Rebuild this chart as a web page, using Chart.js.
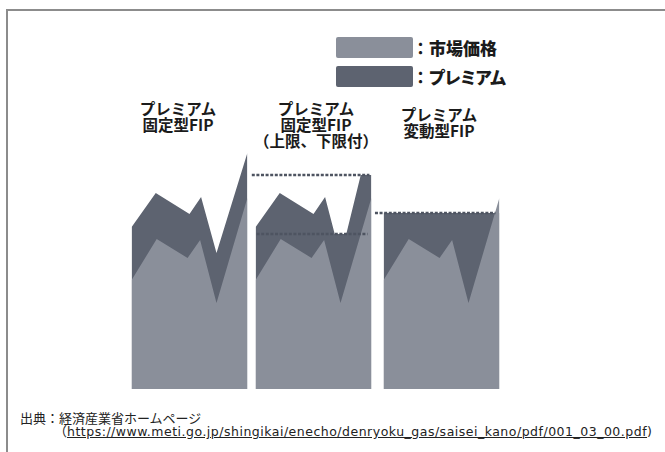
<!DOCTYPE html>
<html lang="ja">
<head>
<meta charset="utf-8">
<script src="https://cdn.jsdelivr.net/npm/chart.js@4/dist/chart.umd.min.js"></script>
<style>
  html, body { margin: 0; padding: 0; background: #fff; }
  body { width: 665px; height: 452px; position: relative; overflow: hidden;
         font-family: "Noto Sans CJK JP", "Noto Sans", sans-serif; color: #1b1b1b; }
  .frame { position: absolute; left: 6px; top: 9px; width: 700px; height: 500px;
           border-top: 2px solid #8c8c8c; border-left: 2px solid #8c8c8c; }
  .panel { position: absolute; top: 139px; width: 135px; height: 250px; }
  .title { position: absolute; width: 160px; text-align: center; font-weight: 700;
           font-size: 15.5px; line-height: 16px; }
  .swatch { position: absolute; left: 336px; width: 77px; height: 21px; border-radius: 2px; }
  .legtext { position: absolute; left: 412px; font-weight: 700; font-size: 17px;
             line-height: 21px; white-space: nowrap; }
  .legtext b { font-feature-settings: "palt"; }
  .src { position: absolute; font-size: 13px; line-height: 15px; color: #222; white-space: nowrap; }
  .url { font-family: "DejaVu Sans", sans-serif; font-size: 12.5px; letter-spacing: 0.5px;
         text-decoration: underline; }
</style>
</head>
<body>
<div class="frame"></div>

<div class="swatch" style="top:37px;background:#8a8f9a"></div>
<div class="legtext" style="top:37px">：<b>市場価格</b></div>
<div class="swatch" style="top:66px;background:#5d6370"></div>
<div class="legtext" style="top:66px">：<b>プレミアム</b></div>

<div class="title" style="left:98px;top:100px">プレミアム<br>固定型FIP</div>
<div class="title" style="left:236px;top:100px">プレミアム<br>固定型FIP<br>（上限、下限付）</div>
<div class="title" style="left:359px;top:106px">プレミアム<br>変動型FIP</div>

<div class="panel" style="left:122px"><canvas id="c1" width="135" height="250"></canvas></div>
<div class="panel" style="left:246px"><canvas id="c2" width="135" height="250"></canvas></div>
<div class="panel" style="left:374px"><canvas id="c3" width="135" height="250"></canvas></div>

<div class="src" style="left:20px;top:410px">出典：経済産業省ホームページ</div>
<div class="src" style="left:54px;top:423px">（<span class="url">https://www.meti.go.jp/shingikai/enecho/denryoku_gas/saisei_kano/pdf/001_03_00.pdf</span><span class="url" style="text-decoration:none">)</span></div>

<script>
// market price, same curve under each scheme
const marketX = [0, 2.6, 5.8, 7.1, 8.8, 12];
const marketPrice = [10.9, 15.0, 13.1, 14.9, 8.6, 19.1];

// fixed premium: market price + premium
const fixedX = [0, 2.5, 6.0, 7.2, 8.8, 12];
const fixedTop = [16.2, 19.6, 17.5, 19.2, 13.6, 23.6];

// fixed premium with cap and floor
const cappedX = [0, 2.5, 6.0, 7.2, 8.2, 9.4, 10.9, 12];
const cappedTop = [16.2, 19.6, 17.5, 19.2, 15.5, 15.5, 21.4, 21.4];
const upperLimit = 21.4;
const upperX = [-0.4, 11.8];
const lowerLimit = 15.5;
const lowerX = [0.1, 11.6];

// floating premium: reference price
const referencePrice = 17.6;
const refAreaX = [0, 12];
const refLineX = [-0.9, 11.6];

const lightGray = '#8a8f9a';
const darkGray = '#5d6370';
const dashColor = '#4e5461';

function pts(xs, ys) {
  return xs.map((x, i) => ({ x: x, y: Array.isArray(ys) ? ys[i] : ys }));
}

function area(data, color, order) {
  return {
    data: data,
    fill: 'origin',
    backgroundColor: color,
    borderColor: 'rgba(0,0,0,0)',
    borderWidth: 0,
    pointRadius: 0,
    order: order
  };
}

function dashed(data) {
  return {
    data: data,
    fill: false,
    borderColor: dashColor,
    borderWidth: 2.5,
    borderDash: [3, 1.6],
    pointRadius: 0,
    order: -1
  };
}

function drawPanel(id, datasets) {
  const ctx = document.getElementById(id).getContext('2d');
  return new Chart(ctx, {
    type: 'line',
    data: { datasets: datasets },
    options: {
      responsive: false,
      animation: false,
      layout: { padding: 0 },
      elements: { line: { tension: 0 } },
      plugins: { legend: { display: false }, tooltip: { enabled: false } },
      scales: {
        x: { type: 'linear', min: -1, max: 13, display: false },
        y: { min: 0, max: 25, display: false }
      }
    }
  });
}

drawPanel('c1', [
  area(pts(marketX, marketPrice), lightGray, 0),
  area(pts(fixedX, fixedTop), darkGray, 1)
]);

drawPanel('c2', [
  area(pts(marketX, marketPrice), lightGray, 0),
  area(pts(cappedX, cappedTop), darkGray, 1),
  dashed(pts(upperX, upperLimit)),
  dashed(pts(lowerX, lowerLimit))
]);

drawPanel('c3', [
  area(pts(marketX, marketPrice), lightGray, 0),
  area(pts(refAreaX, referencePrice), darkGray, 1),
  dashed(pts(refLineX, referencePrice))
]);
</script>
</body>
</html>
